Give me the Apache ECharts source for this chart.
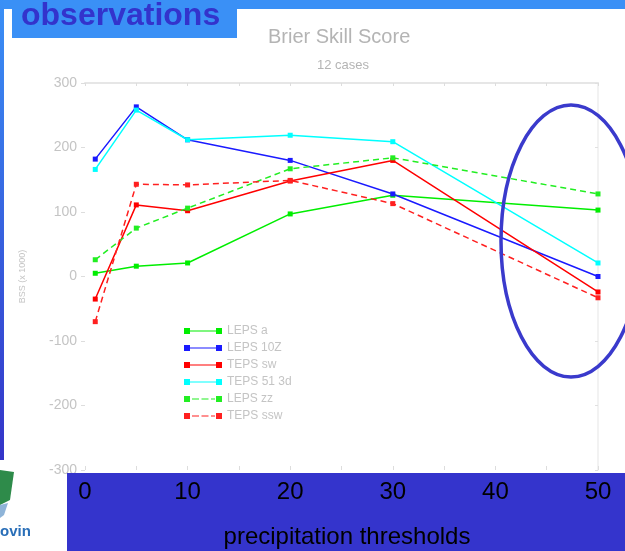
<!DOCTYPE html>
<html>
<head>
<meta charset="utf-8">
<script src="https://cdn.jsdelivr.net/npm/echarts@6/dist/echarts.min.js"></script>
<style>
html,body{margin:0;padding:0;background:#fff;}
#chart{width:625px;height:551px;}
</style>
</head>
<body>
<div id="chart"></div>
<script>
// thresholds (x) and series values (BSS x 1000)
const thresholds = [1, 5, 10, 20, 30, 50];
const xTicks = [0, 10, 20, 30, 40, 50];
const yTicks = [-300, -200, -100, 0, 100, 200, 300];
const seriesNames = ['LEPS a', 'LEPS 10Z', 'TEPS sw', 'TEPS 51 3d', 'LEPS zz', 'TEPS ssw'];
const lepsA    = [5, 16, 21, 97, 126, 103];
const leps10z  = [182, 263, 212, 180, 128, 0];
const tepsSw   = [-35, 111, 102, 148, 180, -24];
const teps513d = [166, 258, 212, 219, 209, 21];
const lepsZz   = [26, 75, 106, 167, 184, 128];
const tepsSsw  = [-70, 143, 142, 149, 113, -33];

const seriesValues = [lepsA, leps10z, tepsSw, teps513d, lepsZz, tepsSsw];
const colors = ['#00ee00', '#1a1aff', '#ff0000', '#00ffff', '#22ee22', '#ff2020'];
const dashed = [false, false, false, false, true, true];

const FONT = 'Liberation Sans, Arial, sans-serif';

const solidIcon = 'path://M0,1h6v6h-6z M6,3.4h26v1.2h-26z M32,1h6v6h-6z';
const dashIcon  = 'path://M0,1h6v6h-6z M8,3.4h7v1.2h-7z M17.5,3.4h7v1.2h-7z M27,3.4h4v1.2h-4z M32,1h6v6h-6z';

const chart = echarts.init(document.getElementById('chart'), null, {renderer: 'canvas'});

const series = seriesNames.map((n, i) => ({
  name: n,
  type: 'line',
  xAxisIndex: 0,
  yAxisIndex: 0,
  data: thresholds.map((t, j) => [t, seriesValues[i][j]]),
  symbol: 'rect',
  symbolSize: 5,
  itemStyle: {color: colors[i]},
  lineStyle: {color: colors[i], width: 1.5, type: dashed[i] ? [6, 4] : 'solid'},
  emphasis: {disabled: true},
  animation: false,
  z: 5
}));

const option = {
  backgroundColor: '#ffffff',
  animation: false,
  textStyle: {fontFamily: FONT},
  title: [
    {text: 'Brier Skill Score', left: 268, top: 27, padding: 0,
     textStyle: {color: '#b4b4b4', fontSize: 20, fontWeight: 'normal', fontFamily: FONT}},
    {text: '12 cases', left: 317, top: 59, padding: 0,
     textStyle: {color: '#b4b4b4', fontSize: 13, fontWeight: 'normal', fontFamily: FONT}}
  ],
  legend: {
    orient: 'vertical',
    left: 184,
    top: 324,
    itemWidth: 38,
    itemHeight: 8,
    itemGap: 3,
    padding: 0,
    textStyle: {color: '#c4c4c4', fontSize: 12, fontFamily: FONT, lineHeight: 14},
    data: seriesNames.map((n, i) => ({name: n, icon: dashed[i] ? dashIcon : solidIcon}))
  },
  grid: {left: 85, right: 27, top: 83, bottom: 81, containLabel: false},
  xAxis: [
    {
      type: 'value', position: 'bottom', min: 0, max: 50, interval: 10, z: 20,
      axisLine: {show: false, onZero: false},
      axisTick: {show: true, length: 4, inside: true, lineStyle: {color: '#dddddd'}},
      minorTick: {show: true, splitNumber: 2, length: 4, lineStyle: {color: '#dddddd'}},
      splitLine: {show: false},
      axisLabel: {color: '#000000', fontSize: 24, margin: 10, fontFamily: FONT,
        formatter: v => xTicks.includes(v) ? String(v) : ''}
    },
    {
      type: 'value', position: 'top', min: 0, max: 50, interval: 10,
      axisLine: {show: true, onZero: false, lineStyle: {color: '#e6e6e6', width: 2}},
      axisTick: {show: true, inside: true, length: 3, lineStyle: {color: '#dddddd'}},
      minorTick: {show: true, splitNumber: 2, length: 3, lineStyle: {color: '#dddddd'}},
      splitLine: {show: false},
      axisLabel: {show: false}
    }
  ],
  yAxis: [
    {
      type: 'value', min: -300, max: 300, interval: 100,
      name: 'BSS (x 1000)', nameLocation: 'middle', nameGap: 58, nameRotate: 90,
      nameTextStyle: {color: '#c4c4c4', fontSize: 9, fontFamily: FONT},
      axisLine: {show: false, onZero: false},
      axisTick: {show: true, length: 4, lineStyle: {color: '#dddddd'}},
      splitLine: {show: false},
      axisLabel: {color: '#c4c4c4', fontSize: 14, margin: 8, fontFamily: FONT,
        formatter: v => yTicks.includes(v) ? String(v) : ''}
    },
    {
      type: 'value', position: 'right', min: -300, max: 300, interval: 100,
      axisLine: {show: true, onZero: false, lineStyle: {color: '#eeeeee', width: 1.5}},
      axisTick: {show: true, inside: true, length: 3, lineStyle: {color: '#e0e0e0'}},
      splitLine: {show: false},
      axisLabel: {show: false}
    }
  ],
  series: series,
  graphic: [
    {type: 'rect', z: 1, shape: {x: 0, y: 0, width: 625, height: 9}, style: {fill: '#3a90f6'}},
    {type: 'rect', z: 1, shape: {x: 0, y: 0, width: 4, height: 460},
     style: {fill: new echarts.graphic.LinearGradient(0, 0, 0, 1, [
       {offset: 0, color: '#3a90f6'}, {offset: 1, color: '#3434c8'}])}},
    {type: 'rect', z: 1, shape: {x: 12, y: 0, width: 225, height: 38}, style: {fill: '#3a90f6'}},
    {type: 'text', z: 2, style: {x: 21, y: 16, text: 'observations', verticalAlign: 'middle',
      fill: '#3333cc', font: 'bold 32px Liberation Sans, Arial, sans-serif'}},
    {type: 'rect', z: 1, shape: {x: 67, y: 473, width: 558, height: 78}, style: {fill: '#3434cc'}},
    {type: 'text', z: 2, style: {x: 347, y: 537, text: 'precipitation thresholds', align: 'center',
      verticalAlign: 'middle', fill: '#000000', font: '24px Liberation Sans, Arial, sans-serif'}},
    {type: 'ellipse', z: 50, shape: {cx: 571, cy: 241, rx: 70, ry: 136},
     style: {fill: 'none', stroke: '#3a3acc', lineWidth: 3.5}},
    // logo approximation
    {type: 'polygon', z: 2, shape: {points: [[0, 470], [14, 472], [10, 500], [0, 505]]}, style: {fill: '#2e8b4a'}},
    {type: 'polygon', z: 2, shape: {points: [[0, 505], [8, 503], [4, 515], [0, 518]]}, style: {fill: '#8fb4d8'}},
    {type: 'text', z: 2, style: {x: 0, y: 532, text: 'ovin', verticalAlign: 'middle',
      fill: '#2a6fb8', font: 'bold 15px Liberation Sans, Arial, sans-serif'}}
  ]
};
chart.setOption(option);
</script>
</body>
</html>
